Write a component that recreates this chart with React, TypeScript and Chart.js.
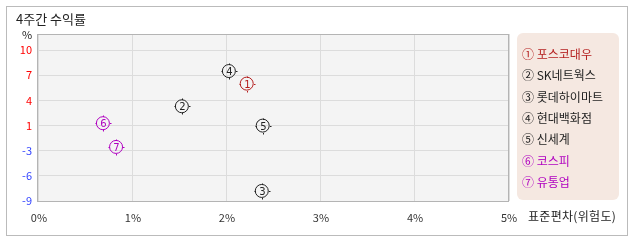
import React, { useEffect, useRef } from "react";
import { Chart, registerables } from "chart.js";

Chart.register(...registerables);

const NAMES = ["포스코대우", "SK네트웍스", "롯데하이마트", "현대백화점", "신세계", "코스피", "유통업"];
const MARKS = ["①", "②", "③", "④", "⑤", "⑥", "⑦"];
const RISK = [2.21, 1.52, 2.37, 2.02, 2.38, 0.68, 0.82];
const RETURN = [6.0, 3.3, -7.8, 7.5, 0.99, 1.28, -2.4];
const COLORS = ["#b41e1e", "#222222", "#222222", "#222222", "#222222", "#b000c0", "#b000c0"];
const Y_TICK_VALUES = [-9, -6, -3, 1, 4, 7, 10];
const X_TICKS = [0, 1, 2, 3, 4, 5];

const FONT = "'Noto Sans CJK KR', 'DejaVu Sans', sans-serif";

// Map a return value to its position on the evenly spaced tick ladder
function toIndex(v: number): number {
  const t = Y_TICK_VALUES;
  if (v <= t[0]) return (v - t[0]) / (t[1] - t[0]);
  for (let i = 0; i < t.length - 1; i++) {
    if (v <= t[i + 1]) return i + (v - t[i]) / (t[i + 1] - t[i]);
  }
  const n = t.length - 1;
  return n + (v - t[n]) / (t[n] - t[n - 1]);
}

const markerPlugin = {
  id: "markers",
  beforeDraw(chart: any) {
    const { ctx, chartArea: a } = chart;
    ctx.save();
    ctx.fillStyle = "#f4f4f4";
    ctx.fillRect(a.left, a.top, a.right - a.left, a.bottom - a.top);
    ctx.restore();
  },
  afterDraw(chart: any) {
    const { ctx, chartArea: a } = chart;
    ctx.save();
    ctx.strokeStyle = "#b4b4b4";
    ctx.lineWidth = 1;
    ctx.strokeRect(a.left + 0.5, a.top + 0.5, a.right - a.left - 1, a.bottom - a.top);
    ctx.restore();
  },
  afterDatasetsDraw(chart: any) {
    const { ctx } = chart;
    chart.data.datasets.forEach((ds: any, i: number) => {
      const meta = chart.getDatasetMeta(i);
      meta.data.forEach((pt: any) => {
        const x = Math.round(pt.x) + 0.5;
        const y = Math.round(pt.y) + 0.5;
        ctx.save();
        ctx.strokeStyle = ds.borderColor;
        ctx.lineWidth = 1;
        ctx.beginPath();
        ctx.moveTo(x, y - 6.5);
        ctx.lineTo(x, y - 8);
        ctx.moveTo(x, y + 6.5);
        ctx.lineTo(x, y + 8);
        ctx.moveTo(x - 6.5, y);
        ctx.lineTo(x - 8, y);
        ctx.moveTo(x + 6.5, y);
        ctx.lineTo(x + 8, y);
        ctx.stroke();
        ctx.fillStyle = ds.borderColor;
        ctx.font = "10px 'DejaVu Sans', sans-serif";
        ctx.textAlign = "center";
        ctx.textBaseline = "middle";
        ctx.fillText(String(i + 1), x, y + 0.5);
        ctx.restore();
      });
    });
  },
};

export default function App() {
  const ref = useRef<HTMLCanvasElement>(null);

  useEffect(() => {
    if (!ref.current) return;
    const chart = new Chart(ref.current, {
      type: "scatter",
      data: {
        datasets: NAMES.map((n, i) => ({
          label: n,
          data: [{ x: RISK[i], y: toIndex(RETURN[i]) }],
          borderColor: COLORS[i],
          backgroundColor: "rgba(0,0,0,0)",
          pointRadius: 6.5,
          pointBorderWidth: 1,
          pointHoverRadius: 6.5,
        })),
      },
      plugins: [markerPlugin],
      options: {
        animation: false,
        responsive: false,
        maintainAspectRatio: false,
        events: [],
        layout: { padding: { left: 0, right: 129, top: 34, bottom: 0 } },
        plugins: { legend: { display: false }, tooltip: { enabled: false } },
        scales: {
          x: {
            type: "linear",
            min: -0.021,
            max: 5,
            afterBuildTicks: (s: any) => {
              s.ticks = X_TICKS.map((v) => ({ value: v }));
            },
            afterFit: (s: any) => {
              s.height = 41;
            },
            grid: { color: "#dcdcdc", drawTicks: false },
            border: { display: false },
            ticks: {
              padding: 10,
              color: "#333",
              font: { family: FONT, size: 11 },
              callback: (v: any) => `${v}%`,
              maxRotation: 0,
            },
          },
          y: {
            type: "linear",
            min: 0,
            max: 6.64,
            afterBuildTicks: (s: any) => {
              s.ticks = Y_TICK_VALUES.map((_, i) => ({ value: i }));
            },
            afterFit: (s: any) => {
              s.width = 37;
            },
            grid: { color: "#dcdcdc", drawTicks: false },
            border: { display: false },
            ticks: {
              padding: 5,
              font: { family: FONT, size: 11 },
              color: (c: any) => (Y_TICK_VALUES[Math.round(c.tick.value)] > 0 ? "#ff0000" : "#3344ff"),
              callback: (v: any) => String(Y_TICK_VALUES[Math.round(Number(v))]),
            },
          },
        },
      },
    });
    return () => chart.destroy();
  }, []);

  return (
    <div style={{ position: "fixed", left: 0, top: 0, width: 638, height: 242, background: "#fff", fontFamily: FONT }}>
      <div style={{ position: "absolute", left: 6, top: 6, width: 622, height: 230, border: "1px solid #bbbbbb", boxSizing: "border-box" }} />
      <canvas ref={ref} width={638} height={242} style={{ position: "absolute", left: 0, top: 0, width: 638, height: 242 }} />
      <div style={{ position: "absolute", left: 16, top: 10, fontSize: 13, color: "#222", lineHeight: "18px" }}>4주간 수익률</div>
      <div style={{ position: "absolute", left: 22, top: 27, fontSize: 11, color: "#222", lineHeight: "14px" }}>%</div>
      <div style={{ position: "absolute", left: 528, top: 207, fontSize: 12, color: "#222", lineHeight: "18px", letterSpacing: 0.3 }}>표준편차(위험도)</div>
      <div style={{ position: "absolute", left: 517, top: 33, width: 102, height: 167, background: "#f5e8e1", borderRadius: 6 }}>
        {NAMES.map((n, i) => (
          <div key={n} style={{ position: "absolute", left: 5, top: 12 + i * 21.3, fontSize: 12, lineHeight: "18px", color: COLORS[i], whiteSpace: "nowrap" }}>
            {MARKS[i]} {n}
          </div>
        ))}
      </div>
    </div>
  );
}
